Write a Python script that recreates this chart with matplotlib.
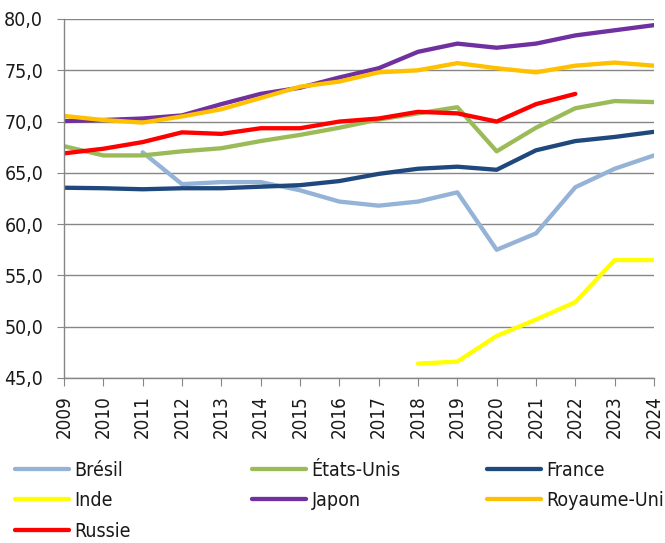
import numpy as np
import matplotlib
matplotlib.use("Agg")
import matplotlib.pyplot as plt
from matplotlib.ticker import FuncFormatter

plt.rcParams['font.family'] = ['DejaVu Sans']
plt.rcParams['font.stretch'] = 'condensed'

years = list(range(2009, 2025))
nan = np.nan

# one list per country, nan where no value
bresil = [nan, nan, 67.0, 63.9, 64.1, 64.1, 63.3, 62.2, 61.8, 62.2, 63.1, 57.5, 59.1, 63.6, 65.4, 66.7]
etats_unis = [67.6, 66.7, 66.7, 67.1, 67.4, 68.1, 68.7, 69.4, 70.2, 70.8, 71.4, 67.1, 69.4, 71.3, 72.0, 71.9]
france = [63.55, 63.5, 63.4, 63.5, 63.5, 63.65, 63.8, 64.2, 64.9, 65.4, 65.6, 65.3, 67.2, 68.1, 68.5, 69.0]
inde = [nan, nan, nan, nan, nan, nan, nan, nan, nan, 46.4, 46.6, 49.1, 50.7, 52.4, 56.5, 56.5]
japon = [70.05, 70.15, 70.3, 70.6, 71.7, 72.7, 73.3, 74.3, 75.2, 76.8, 77.6, 77.2, 77.6, 78.4, 78.9, 79.4]
royaume_uni = [70.55, 70.15, 69.9, 70.5, 71.2, 72.3, 73.4, 73.9, 74.8, 75.0, 75.7, 75.2, 74.8, 75.45, 75.75, 75.45]
russie = [66.9, 67.35, 68.0, 68.95, 68.8, 69.35, 69.35, 70.0, 70.3, 70.95, 70.8, 70.0, 71.7, 72.7, nan, nan]

series = [
    ("Brésil", bresil, "#95B3D7"),
    ("États-Unis", etats_unis, "#9BBB59"),
    ("France", france, "#1F497D"),
    ("Inde", inde, "#FFFF00"),
    ("Japon", japon, "#7030A0"),
    ("Royaume-Uni", royaume_uni, "#FFC000"),
    ("Russie", russie, "#FF0000"),
]

fig = plt.figure(figsize=(6.65, 5.43), dpi=100)
ax = fig.add_axes([64 / 665, 1 - 378 / 543, 590 / 665, 359 / 543])

handles = {}
for name, vals, col in series:
    ln, = ax.plot(years, vals, color=col, lw=3.1, solid_capstyle='round',
                  solid_joinstyle='round', label=name)
    handles[name] = ln

ax.set_xlim(2009, 2024)
ax.set_ylim(45, 80)
ax.set_yticks(np.arange(45, 80.1, 5))
ax.set_xticks(years)
ax.yaxis.set_major_formatter(FuncFormatter(lambda v, p: f"{v:.1f}".replace('.', ',')))
ax.tick_params(axis='y', labelsize=14, length=5, color='#868686', labelcolor='#1a1a1a', pad=10)
ax.tick_params(axis='x', labelsize=13.5, length=5.5, color='#868686', labelcolor='#1a1a1a',
               labelrotation=90, pad=7)

ax.yaxis.grid(True, color='#868686', lw=1)
ax.set_axisbelow(True)
for s in ['top', 'right']:
    ax.spines[s].set_visible(False)
for s in ['left', 'bottom']:
    ax.spines[s].set_color('#868686')
    ax.spines[s].set_linewidth(1)

# three legend columns with fixed spacing
columns = [(15, ["Brésil", "Inde", "Russie"]),
           (252, ["États-Unis", "Japon"]),
           (487, ["France", "Royaume-Uni"])]
for xpx, names in columns:
    leg = fig.legend([handles[n] for n in names], names, loc='upper left',
                     bbox_to_anchor=(xpx / 665, 1 - 461 / 543), frameon=False,
                     fontsize=14, handlelength=2.8, handletextpad=0.26,
                     borderpad=0, borderaxespad=0, labelspacing=0.58)
    for t in leg.get_texts():
        t.set_color('#1a1a1a')

fig.savefig("out.png", dpi=100)
